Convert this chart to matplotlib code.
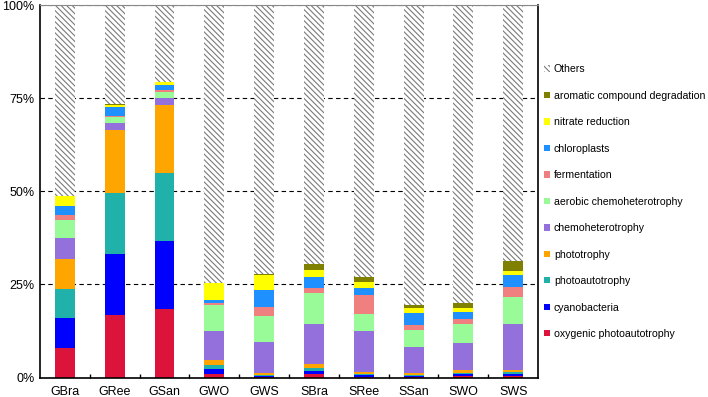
import numpy as np
import matplotlib.pyplot as plt
from matplotlib.patches import Patch
from matplotlib.ticker import PercentFormatter, MultipleLocator

plt.rcParams["font.family"] = ["Liberation Sans", "DejaVu Sans"]
plt.rcParams["hatch.linewidth"] = 0.8

samples = ["GBra", "GRee", "GSan", "GWO", "GWS", "SBra", "SRee", "SSan", "SWO", "SWS"]

# segment heights (%) per function, bottom to top
oxygenic = [7.9, 16.7, 18.4, 0.9, 0.1, 0.9, 0.2, 0.1, 0.3, 0.3]
cyano = [8.1, 16.5, 18.3, 1.3, 0.4, 0.8, 0.5, 0.3, 0.7, 0.7]
photoauto = [7.8, 16.4, 18.2, 1.3, 0.2, 0.8, 0.3, 0.4, 0.3, 0.4]
phototrophy = [8.1, 16.8, 18.2, 1.3, 0.4, 1.1, 0.5, 0.3, 0.6, 0.6]
chemohet = [5.6, 2.0, 2.0, 7.7, 8.5, 10.8, 11.0, 7.2, 7.3, 12.4]
aerobic = [4.7, 1.6, 1.6, 7.1, 6.9, 8.2, 4.6, 4.4, 5.2, 7.3]
fermentation = [1.4, 0.3, 0.5, 0.3, 2.4, 1.5, 5.1, 1.4, 1.2, 2.6]
chloroplasts = [2.4, 2.4, 1.4, 0.8, 4.7, 2.9, 1.9, 3.3, 2.1, 3.2]
nitrate = [2.7, 0.5, 0.7, 4.6, 4.0, 2.0, 1.5, 1.2, 1.0, 1.1]
aromatic = [0.1, 0.3, 0.2, 0.0, 0.2, 1.6, 1.5, 0.9, 1.2, 2.7]

series = [
    ("oxygenic photoautotrophy", oxygenic, "#DC143C"),
    ("cyanobacteria", cyano, "#0000FF"),
    ("photoautotrophy", photoauto, "#20B2AA"),
    ("phototrophy", phototrophy, "#FFA500"),
    ("chemoheterotrophy", chemohet, "#9370DB"),
    ("aerobic chemoheterotrophy", aerobic, "#98FB98"),
    ("fermentation", fermentation, "#F08080"),
    ("chloroplasts", chloroplasts, "#1E90FF"),
    ("nitrate reduction", nitrate, "#FFFF00"),
    ("aromatic compound degradation", aromatic, "#808000"),
]

fig = plt.figure(figsize=(7.08, 3.97), dpi=100)
ax = fig.add_axes([0.0565, 0.049, 0.7035, 0.938])

x = np.arange(len(samples))
bottom = np.zeros(len(samples))
handles = []
for name, vals, col in series:
    ax.bar(x, vals, 0.4, bottom=bottom, color=col, linewidth=0, zorder=2)
    bottom += np.array(vals)
    handles.append(Patch(facecolor=col, label=name))

others = 100 - bottom
hatch = "\\" * 6
ax.bar(x, others, 0.4, bottom=bottom, facecolor="white", edgecolor="#7a7a7a",
       hatch=hatch, linewidth=0, zorder=2)
handles.append(Patch(facecolor="white", edgecolor="#7a7a7a", hatch=hatch,
                     linewidth=0, label="Others"))

ax.set_xlim(-0.5, len(samples) - 0.5)
ax.set_ylim(0, 100)
ax.yaxis.set_major_locator(MultipleLocator(25))
ax.yaxis.set_major_formatter(PercentFormatter(decimals=0))
ax.set_xticks(x)
ax.set_xticklabels(samples)
ax.set_xticks(x[:-1] + 0.5, minor=True)
ax.tick_params(axis="x", which="major", length=0, labelsize=9, pad=6)
ax.tick_params(axis="x", which="minor", direction="in", length=3, width=1)
ax.tick_params(axis="y", length=0, labelsize=9, pad=4)
ax.grid(axis="y", linestyle=(0, (4, 3)), color="black", linewidth=0.8, zorder=0)
for s in ["left", "bottom", "right"]:
    ax.spines[s].set_linewidth(1.2)
ax.spines["top"].set_color("#888888")

fig.legend(handles=handles[::-1], loc="upper left", bbox_to_anchor=(0.769, 0.838),
           frameon=False, fontsize=7.6, handlelength=0.55, handleheight=0.55,
           handletextpad=0.35, labelspacing=1.56, borderpad=0, borderaxespad=0)

fig.savefig("out.png", dpi=100)
